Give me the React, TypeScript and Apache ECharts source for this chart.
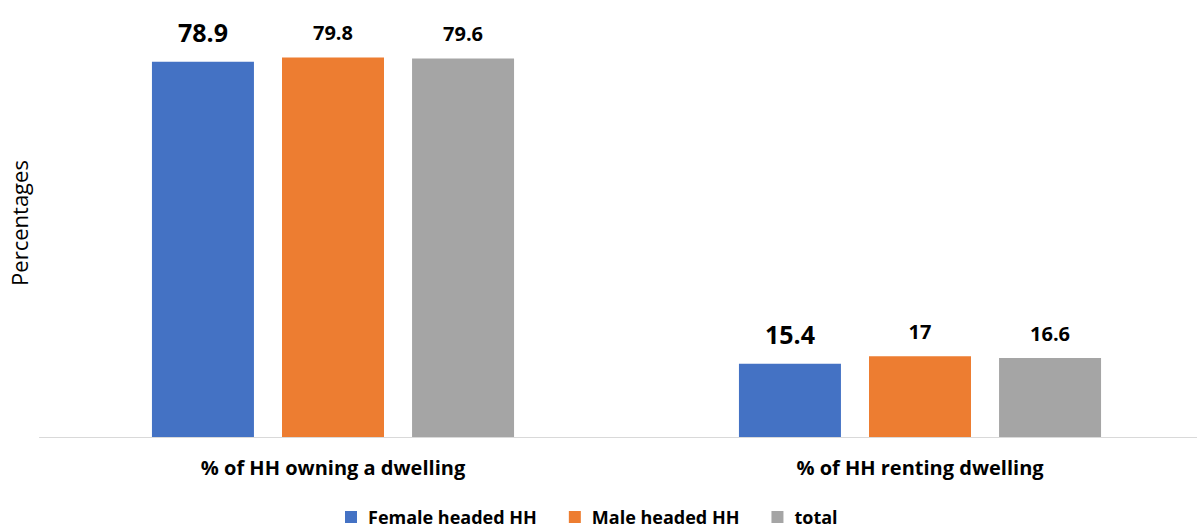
import React, { useEffect, useRef } from "react";
import * as echarts from "echarts";

const categories = ["% of HH owning a dwelling", "% of HH renting dwelling"];
const femaleHeaded = [78.9, 15.4];
const maleHeaded = [79.8, 17];
const totalValues = [79.6, 16.6];
const seriesNames = ["Female headed HH", "Male headed HH", "total"];
const colors = ["#4472C4", "#ED7D31", "#A5A5A5"];

const FONT = "'Open Sans', 'Liberation Sans', sans-serif";

export default function App() {
  const ref = useRef<HTMLDivElement>(null);
  useEffect(() => {
    if (!ref.current) return;
    const chart = echarts.init(ref.current, null, { renderer: "svg" });
    const mk = (name: string, data: number[], color: string, big: boolean) => ({
      name,
      type: "bar",
      data,
      barWidth: 102,
      barGap: "27.5%",
      itemStyle: { color },
      label: {
        show: true,
        position: "top",
        distance: big ? 17 : 15,
        fontFamily: FONT,
        fontWeight: "bold",
        fontSize: big ? 25 : 20,
        color: "#000",
      },
    });
    chart.setOption({
      animation: false,
      textStyle: { fontFamily: FONT },
      grid: {
        left: 39.5,
        width: 1174,
        top: 9,
        bottom: 95,
        containLabel: false,
        outerBoundsMode: "none",
      },
      legend: {
        top: 503,
        left: 340,
        padding: 5,
        itemWidth: 12,
        itemHeight: 12,
        itemGap: 32,
        icon: "rect",
        textStyle: {
          fontFamily: FONT,
          fontWeight: "bold",
          fontSize: 18,
          lineHeight: 18,
          color: "#000",
          padding: [0, 0, 0, 6],
        },
        data: seriesNames,
      },
      xAxis: {
        type: "category",
        data: categories,
        axisLine: { lineStyle: { color: "#D9D9D9", width: 1 } },
        axisTick: { show: false },
        axisLabel: {
          fontFamily: FONT,
          fontWeight: "bold",
          fontSize: 20,
          color: "#000",
          margin: 20,
        },
      },
      yAxis: {
        type: "value",
        min: 0,
        max: 90,
        axisLine: { show: false },
        axisTick: { show: false },
        axisLabel: { show: false },
        splitLine: { show: false },
        name: "Percentages",
        nameLocation: "middle",
        nameRotate: 90,
        nameGap: 10,
        nameTextStyle: { fontFamily: FONT, fontSize: 22, color: "#000" },
      },
      series: [
        mk(seriesNames[0], femaleHeaded, colors[0], true),
        mk(seriesNames[1], maleHeaded, colors[1], false),
        mk(seriesNames[2], totalValues, colors[2], false),
      ],
    });
    return () => chart.dispose();
  }, []);
  return (
    <div
      ref={ref}
      style={{ position: "fixed", left: 0, top: 0, width: 1197, height: 532, background: "#fff" }}
    />
  );
}
